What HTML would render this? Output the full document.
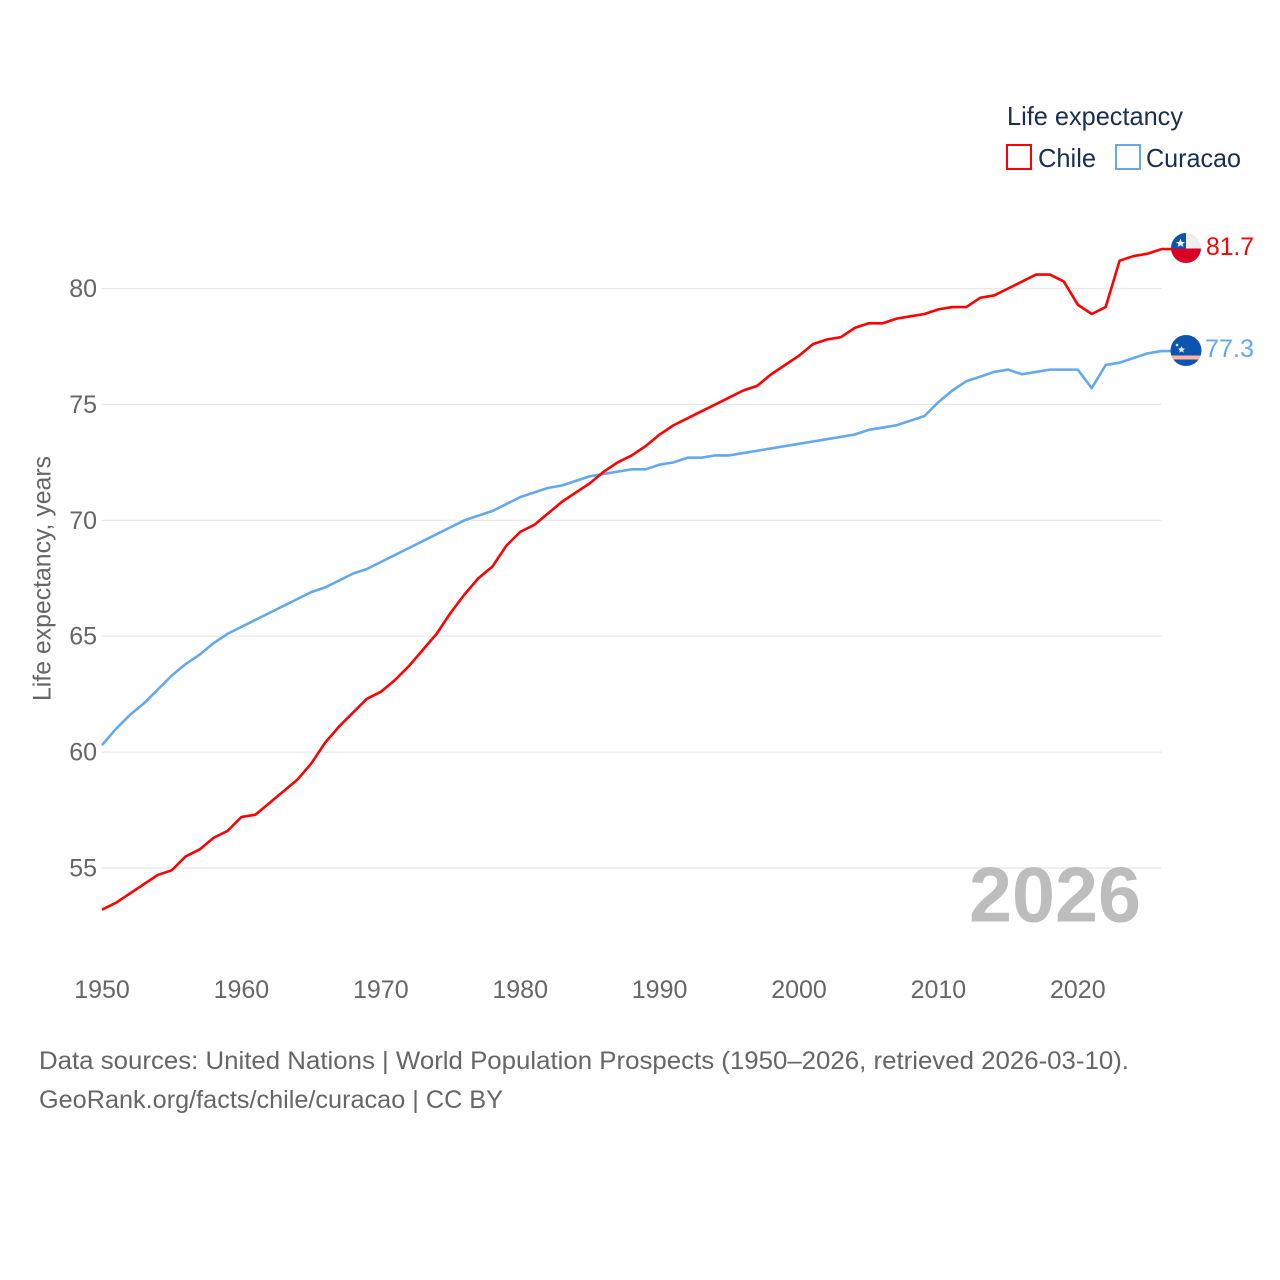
<!DOCTYPE html>
<html lang="en">
<head>
<meta charset="utf-8">
<title>Life expectancy: Chile and Curacao</title>
<style>
html,body{margin:0;padding:0;background:#fff;width:1280px;height:1280px;overflow:hidden}
svg{display:block}
text{font-family:"Liberation Sans",sans-serif}
</style>
</head>
<body>
<svg id="chart" width="1280" height="1280" viewBox="0 0 1280 1280" xmlns="http://www.w3.org/2000/svg">
  <defs>
    <clipPath id="clip-chile"><circle cx="1186" cy="248" r="15"/></clipPath>
    <clipPath id="clip-curacao"><circle cx="1186" cy="350.5" r="15.5"/></clipPath>
  </defs>
  <g id="grid"></g>
  <g id="ytick-labels"></g>
  <g id="xtick-labels"></g>
  <text transform="translate(50.5,701) rotate(-90)" font-size="25" fill="#666666" textLength="245" lengthAdjust="spacingAndGlyphs">Life expectancy, years</text>
  <text x="969" y="921.5" font-size="78" font-weight="700" fill="#bdbdbd" textLength="172" lengthAdjust="spacingAndGlyphs">2026</text>
  <g id="series"></g>

  <g>
    <text x="1007" y="125" font-size="26" fill="#1a2e50" textLength="176" lengthAdjust="spacingAndGlyphs">Life expectancy</text>
    <g>
      <rect x="1007" y="145" width="24" height="24" fill="#fff" stroke="#ff0000" stroke-width="2"/>
      <text x="1038" y="167" font-size="26" fill="#1a2e50" textLength="58" lengthAdjust="spacingAndGlyphs">Chile</text>
    </g>
    <g>
      <rect x="1116" y="145" width="24" height="24" fill="#fff" stroke="#64a8ee" stroke-width="2"/>
      <text x="1146" y="167" font-size="26" fill="#1a2e50" textLength="95" lengthAdjust="spacingAndGlyphs">Curacao</text>
    </g>
  </g>

  <g clip-path="url(#clip-chile)">
    <rect x="1171" y="233" width="30" height="15.5" fill="#eeeeee"/>
    <rect x="1171" y="233" width="15" height="15.5" fill="#0b55b0"/>
    <rect x="1171" y="248.5" width="30" height="15" fill="#d80027"/>
    <polygon points="1180.5,238.5 1181.8,242 1185,242 1182.5,244.2 1183.5,247 1180.5,245.3 1177.5,247 1178.5,244.2 1176,242 1179.2,242" fill="#f0f0f0"/>
  </g>
  <g clip-path="url(#clip-curacao)">
    <rect x="1170" y="335" width="32" height="32" fill="#0b55b0"/>
    <rect x="1170" y="355.5" width="32" height="4" fill="#ffb3a0"/>
    <polygon points="1181.5,346 1182.6,348.4 1185,348.6 1183.2,350.2 1183.8,352.6 1181.5,351.3 1179.2,352.6 1179.8,350.2 1178,348.6 1180.4,348.4" fill="#e8eef8"/>
    <circle cx="1177" cy="345" r="1.3" fill="#e8eef8"/>
  </g>
  <text x="1206" y="255" font-size="25" fill="#ff0000" textLength="48" lengthAdjust="spacingAndGlyphs">81.7</text>
  <text x="1205" y="357" font-size="25" fill="#64a8ee" textLength="49" lengthAdjust="spacingAndGlyphs">77.3</text>

  <text x="39" y="1069" font-size="25" fill="#666666" textLength="1090" lengthAdjust="spacingAndGlyphs">Data sources: United Nations | World Population Prospects (1950–2026, retrieved 2026-03-10).</text>
  <text x="39" y="1108" font-size="25" fill="#666666" textLength="464" lengthAdjust="spacingAndGlyphs">GeoRank.org/facts/chile/curacao | CC BY</text>
</svg>
<script>
const startYear = 1950;
const chileValues = [53.2,53.5,53.9,54.3,54.7,54.9,55.5,55.8,56.3,56.6,57.2,57.3,57.8,58.3,58.8,59.5,60.4,61.1,61.7,62.3,62.6,63.1,63.7,64.4,65.1,66.0,66.8,67.5,68.0,68.9,69.5,69.8,70.3,70.8,71.2,71.6,72.1,72.5,72.8,73.2,73.7,74.1,74.4,74.7,75.0,75.3,75.6,75.8,76.3,76.7,77.1,77.6,77.8,77.9,78.3,78.5,78.5,78.7,78.8,78.9,79.1,79.2,79.2,79.6,79.7,80.0,80.3,80.6,80.6,80.3,79.3,78.9,79.2,81.2,81.4,81.5,81.7];
const curacaoValues = [60.3,61.0,61.6,62.1,62.7,63.3,63.8,64.2,64.7,65.1,65.4,65.7,66.0,66.3,66.6,66.9,67.1,67.4,67.7,67.9,68.2,68.5,68.8,69.1,69.4,69.7,70.0,70.2,70.4,70.7,71.0,71.2,71.4,71.5,71.7,71.9,72.0,72.1,72.2,72.2,72.4,72.5,72.7,72.7,72.8,72.8,72.9,73.0,73.1,73.2,73.3,73.4,73.5,73.6,73.7,73.9,74.0,74.1,74.3,74.5,75.1,75.6,76.0,76.2,76.4,76.5,76.3,76.4,76.5,76.5,76.5,75.7,76.7,76.8,77.0,77.2,77.3];
const yTickValues = [55,60,65,70,75,80];
const xTickYears = [1950,1960,1970,1980,1990,2000,2010,2020];

const NS = 'http://www.w3.org/2000/svg';
const xScale = year => 102 + (year - 1950) * 13.94;
const yScale = value => 288.5 + (80 - value) * 23.18;

function make(tag, parent, attrs) {
  const el = document.createElementNS(NS, tag);
  for (const k in attrs) el.setAttribute(k, attrs[k]);
  parent.appendChild(el);
  return el;
}

const gridGroup = document.getElementById('grid');
const yLabelGroup = document.getElementById('ytick-labels');
const xLabelGroup = document.getElementById('xtick-labels');
const seriesGroup = document.getElementById('series');

yTickValues.forEach(v => {
  const line = make('line', gridGroup, {x1: 102, x2: 1161.5, y1: yScale(v), y2: yScale(v), stroke: '#e8e8e8', 'stroke-width': 1.2});
  
  
  const label = make('text', yLabelGroup, {x: 97, y: yScale(v) + 8.5, 'text-anchor': 'end', 'font-size': 25, fill: '#666666'});
  
  
  label.textContent = v;
});

xTickYears.forEach(y => {
  const label = make('text', xLabelGroup, {x: xScale(y), y: 998, 'text-anchor': 'middle', 'font-size': 25, fill: '#666666'});
  
  
  label.textContent = y;
});

function pathFor(values) {
  const d = values.map((v, i) => (i ? 'L' : 'M') + xScale(startYear + i).toFixed(2) + ' ' + yScale(v).toFixed(2)).join(' ');
  const last = values.length - 1;
  return d + ' L' + (xScale(startYear + last) + 10).toFixed(2) + ' ' + yScale(values[last]).toFixed(2);
}

const curacaoLine = make('path', seriesGroup, {d: pathFor(curacaoValues), fill: 'none', stroke: '#64a8ee', 'stroke-width': 2.6, 'stroke-linejoin': 'round'});


const chileLine = make('path', seriesGroup, {d: pathFor(chileValues), fill: 'none', stroke: '#ff0000', 'stroke-width': 2.6, 'stroke-linejoin': 'round'});


</script>
</body>
</html>
